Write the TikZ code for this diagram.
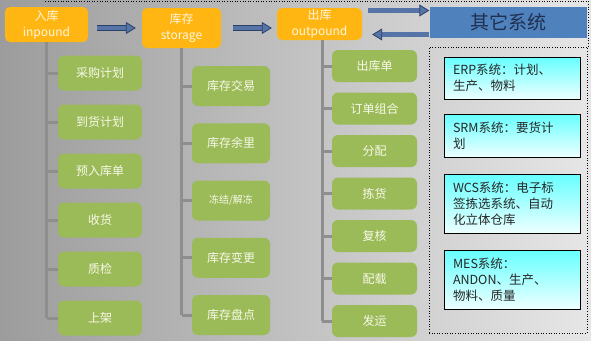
\documentclass[tikz,border=0pt]{standalone}
\usepackage{fontspec}
\setmainfont{Noto Sans CJK SC}
\usetikzlibrary{arrows.meta}
\definecolor{bgL}{HTML}{9C9C9C}
\definecolor{bgR}{HTML}{E6E6E6}
\definecolor{orangeC}{HTML}{FFB612}
\definecolor{stagetext}{HTML}{FFF6DC}
\definecolor{greenC}{HTML}{9BBB59}
\definecolor{tasktext}{HTML}{F8F8E8}
\definecolor{othF}{HTML}{4F81BD}
\definecolor{othT}{HTML}{1F3050}
\definecolor{arrowF}{HTML}{5674A8}
\definecolor{arrowD}{HTML}{2A4268}
\definecolor{cyanT}{HTML}{66FFFF}
\definecolor{cyanB}{HTML}{EEFFFF}
\definecolor{trunkC}{HTML}{8E8E8E}
\begin{document}
\begin{tikzpicture}[x=1pt,y=-1pt,
  stage/.style={fill=orangeC, rounded corners=5pt, text=stagetext, align=center,
    inner sep=0pt, font=\fontsize{12}{16}\selectfont},
  task/.style={fill=greenC, rounded corners=6pt, text=tasktext, inner sep=0pt,
    font=\fontsize{12}{14}\selectfont},
  col1/.style={task, minimum width=84pt, minimum height=35pt},
  col2/.style={task, minimum width=78pt, minimum height=40pt},
  col3/.style={task, minimum width=85pt, minimum height=32pt},
  sysbox/.style={draw=black, line width=1pt, top color=cyanT, bottom color=cyanB,
    align=left, text width=118pt, inner xsep=9pt, inner ysep=0pt, text=black!85,
    font=\fontsize{12.5}{16}\selectfont},
  trunk/.style={draw=trunkC, line width=3pt},
  blockarr/.style={draw=arrowD, line width=0.8pt, double=arrowF, double distance=4.2pt,
    -{Triangle[length=10pt,width=12pt,fill=arrowF]}}
]
\useasboundingbox (0,0) rectangle (591,340);
\shade[left color=bgL, right color=bgR] (0,0) rectangle (591,340);
\draw[dotted, line width=0.6pt] (45,1) -- (588,1) -- (588,47);

% stages
\node[stage, minimum width=83pt, minimum height=35pt] (inp) at (46.5,24.5) {入库\\inpound};
\node[stage, minimum width=79pt, minimum height=40pt] (sto) at (181.5,28) {库存\\storage};
\node[stage, minimum width=85pt, minimum height=32pt] (out) at (319.5,24) {出库\\outpound};
\node[fill=othF, text=othT, minimum width=157pt, minimum height=31pt, inner sep=0pt,
  font=\fontsize{19}{20}\selectfont] (oth) at (508.5,22.5) {其它系统};

% column 1
\foreach \t [count=\i] in {采购计划,到货计划,预入库单,收货,质检,上架}
  \node[col1] (a\i) at (100,{73+49*(\i-1)}) {\t};
% column 2
\foreach \t [count=\i] in {库存交易,库存余里,{\fontsize{10}{12}\selectfont 冻结/解冻},库存变更,库存盘点}
  \node[col2] (b\i) at (231,{86+57.25*(\i-1)}) {\t};
% column 3
\foreach \t [count=\i] in {出库单,订单组合,分配,拣货,复核,配载,发运}
  \node[col3] (c\i) at (374.5,{66+42.5*(\i-1)}) {\t};

% trunks
\draw[trunk] (inp.south) -- (inp.south |- a6.west);
\foreach \i in {1,...,6} \draw[trunk] (inp.south |- a\i.west) -- (a\i.west);
\draw[trunk] (sto.south) -- (sto.south |- b5.west);
\foreach \i in {1,...,5} \draw[trunk] (sto.south |- b\i.west) -- (b\i.west);
\coordinate (ot) at ([xshift=2.5pt]out.south);
\draw[trunk] (ot) -- (ot |- c7.west);
\foreach \i in {1,...,7} \draw[trunk] (ot |- c\i.west) -- (c\i.west);

% arrows
\draw[blockarr, shorten <=9pt, shorten >=6pt] (inp.east |- sto.west) -- (sto.west);
\draw[blockarr, shorten <=12pt, shorten >=5pt] (sto.east) -- (sto.east -| out.west);
\draw[blockarr, shorten <=6pt, shorten >=0.5pt] ([yshift=13.5pt]out.east) -- ([yshift=13.5pt]out.east -| oth.west);
\draw[blockarr, shorten <=0.5pt, shorten >=10pt] ([yshift=-10.5pt]out.east -| oth.west) -- ([yshift=-10.5pt]out.east);

% other systems panel
\node[draw=black, dotted, line width=0.6pt, minimum width=158pt, minimum height=286pt, inner sep=0pt] (panel) at (508,190) {};
\node[sysbox, minimum height=42pt] (erp) at (512,78) {ERP系统：计划、\\生产、物料};
\node[sysbox, minimum height=43pt] (srm) at (512,135.5) {SRM系统：要货计\\划};
\node[sysbox, minimum height=59pt] (wcs) at (512,203.5) {WCS系统：电子标\\签拣选系统、自动\\化立体仓库};
\node[sysbox, minimum height=59pt] (mes) at (512,279.5) {MES系统：\\ANDON、生产、\\物料、质量};
\end{tikzpicture}
\end{document}
